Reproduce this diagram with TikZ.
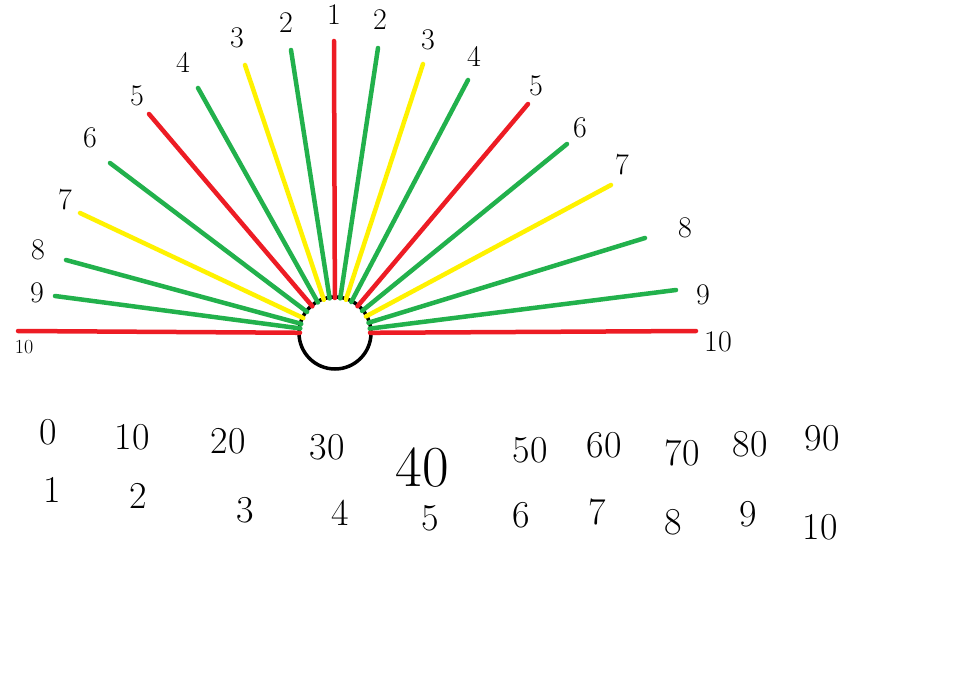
\documentclass[tikz,border=0pt]{standalone}
\usetikzlibrary{positioning}
\definecolor{PaintRed}{HTML}{ED1C24}
\definecolor{PaintGreen}{HTML}{22B14C}
\definecolor{PaintYellow}{HTML}{FFF200}

\begin{document}
\begin{tikzpicture}[x=1pt, y=-1pt,
    hub/.style={circle, draw=black, line width=3.5pt, minimum size=72pt, inner sep=0pt, outer sep=0pt},
    ray/.style={line width=4.5pt, line cap=round, shorten >=-1pt},
    tick/.style={font=\fontsize{30}{30}\selectfont, inner sep=0pt},
    num/.style={font=\fontsize{38}{38}\selectfont, inner sep=0pt},
]
    \useasboundingbox[fill=white] (0,0) rectangle (962,682);

    % hub and ray ends
    \node[hub] (hub) at (335,333) {};
    \coordinate (l10) at (18,331);
    \coordinate (l9) at (55,296);
    \coordinate (l8) at (66,260);
    \coordinate (l7) at (80,213);
    \coordinate (l6) at (110,163);
    \coordinate (l5) at (149,114);
    \coordinate (l4) at (198,88);
    \coordinate (l3) at (245,65);
    \coordinate (l2) at (291,50);
    \coordinate (c1) at (334,41);
    \coordinate (r2) at (378,48);
    \coordinate (r3) at (423,64);
    \coordinate (r4) at (468,80);
    \coordinate (r5) at (528,104);
    \coordinate (r6) at (567,144);
    \coordinate (r7) at (611,185);
    \coordinate (r8) at (645,238);
    \coordinate (r9) at (676,290);
    \coordinate (r10) at (696,331);

    % rays
    \draw[ray, PaintRed] (l10) -- (hub);
    \draw[ray, PaintGreen] (l9) -- (hub);
    \draw[ray, PaintGreen] (l8) -- (hub);
    \draw[ray, PaintYellow] (l7) -- (hub);
    \draw[ray, PaintGreen] (l6) -- (hub);
    \draw[ray, PaintRed] (l5) -- (hub);
    \draw[ray, PaintGreen] (l4) -- (hub);
    \draw[ray, PaintYellow] (l3) -- (hub);
    \draw[ray, PaintGreen] (l2) -- (hub);
    \draw[ray, PaintRed] (c1) -- (hub);
    \draw[ray, PaintGreen] (r2) -- (hub);
    \draw[ray, PaintYellow] (r3) -- (hub);
    \draw[ray, PaintGreen] (r4) -- (hub);
    \draw[ray, PaintRed] (r5) -- (hub);
    \draw[ray, PaintGreen] (r6) -- (hub);
    \draw[ray, PaintYellow] (r7) -- (hub);
    \draw[ray, PaintGreen] (r8) -- (hub);
    \draw[ray, PaintGreen] (r9) -- (hub);
    \draw[ray, PaintRed] (r10) -- (hub);

    % ray labels
    \node[tick, font=\fontsize{20}{20}\selectfont] (tl10) at (24,347) {10};
    \node[tick] (tl9) at (37,293) {9};
    \node[tick] (tl8) at (38,250) {8};
    \node[tick] (tl7) at (65,200) {7};
    \node[tick] (tl6) at (90,138) {6};
    \node[tick] (tl5) at (137,96) {5};
    \node[tick] (tl4) at (183,62) {4};
    \node[tick] (tl3) at (237,38) {3};
    \node[tick] (tl2) at (286,23) {2};
    \node[tick] (tc1) at (334,15) {1};
    \node[tick] (tr2) at (380,20) {2};
    \node[tick] (tr3) at (428,40) {3};
    \node[tick] (tr4) at (474,56) {4};
    \node[tick] (tr5) at (536,86) {5};
    \node[tick] (tr6) at (580,128) {6};
    \node[tick] (tr7) at (622,165) {7};
    \node[tick] (tr8) at (685,228) {8};
    \node[tick] (tr9) at (703,295) {9};
    \node[tick] (tr10) at (718,342) {10};

    % tens row
    \node[num] (tens0) at (48,432) {0};
    \node[num] (tens10) at (132,437) {10};
    \node[num] (tens20) at (228,441) {20};
    \node[num] (tens30) at (327,447) {30};
    \node[num, font=\fontsize{58}{58}\selectfont] (tens40) at (422,468) {40};
    \node[num] (tens50) at (530,450) {50};
    \node[num] (tens60) at (604,445) {60};
    \node[num] (tens70) at (682,453) {70};
    \node[num] (tens80) at (750,444) {80};
    \node[num] (tens90) at (822,438) {90};

    % units row
    \node[num] (unit1) at (52,490) {1};
    \node[num] (unit2) at (138,496) {2};
    \node[num] (unit3) at (245,510) {3};
    \node[num] (unit4) at (340,513) {4};
    \node[num] (unit5) at (430,518) {5};
    \node[num] (unit6) at (521,515) {6};
    \node[num] (unit7) at (597,512) {7};
    \node[num] (unit8) at (673,522) {8};
    \node[num] (unit9) at (748,514) {9};
    \node[num] (unit10) at (820,527) {10};
\end{tikzpicture}
\end{document}
